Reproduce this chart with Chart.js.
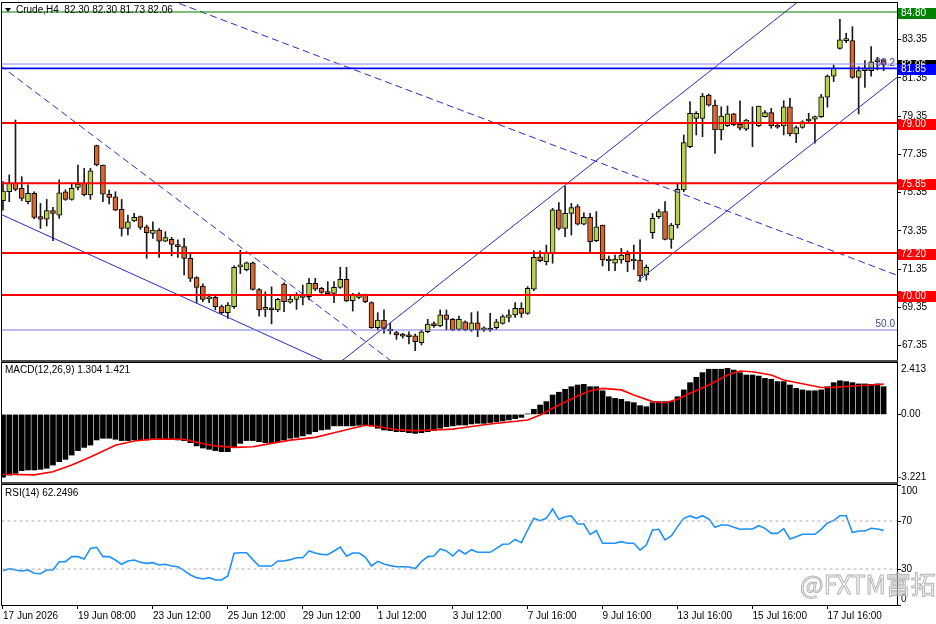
<!DOCTYPE html>
<html><head><meta charset="utf-8">
<script src="https://cdn.jsdelivr.net/npm/chart.js@4.4.1/dist/chart.umd.min.js"></script>
<style>
html,body{margin:0;padding:0;background:#fff;}
#wrap{position:relative;width:936px;height:624px;overflow:hidden;background:#fff;}
canvas{position:absolute;left:0;}
</style></head><body>
<div id="wrap">
<canvas id="cMain" width="936" height="362" style="top:0px"></canvas>
<canvas id="cMacd" width="936" height="122" style="top:362px"></canvas>
<canvas id="cRsi" width="936" height="140" style="top:484px"></canvas>
</div>
<script>
// ---------- DATA (Crude, H4) ----------
const opens = [
74.93,75.40,75.84,75.58,74.88,75.32,74.10,73.96,74.41,74.18,
75.40,75.00,75.63,75.84,75.23,77.81,76.80,75.28,75.14,74.48,
73.48,73.88,74.10,73.57,73.22,73.40,72.82,72.91,72.61,72.53,
71.92,70.91,70.47,69.80,69.88,69.39,69.08,69.39,71.47,71.33,
71.68,70.29,69.25,69.25,69.22,70.57,69.62,69.77,70.00,69.91,
70.61,70.35,70.09,70.09,70.40,70.82,69.70,69.88,70.00,69.60,
68.29,68.69,68.20,68.03,67.91,67.91,67.86,67.51,68.08,68.48,
68.39,68.96,68.73,68.20,68.60,68.17,68.55,68.17,68.20,68.29,
68.52,68.83,68.96,69.30,69.04,70.30,72.00,71.74,72.18,74.45,
73.48,74.27,74.62,73.71,74.06,72.84,73.66,71.80,71.66,71.83,
72.14,71.78,71.83,71.05,73.26,74.10,74.36,72.91,73.66,75.49,
77.76,79.24,79.24,80.45,79.93,78.63,78.85,79.47,78.93,78.67,
78.95,78.85,79.33,79.54,78.80,78.84,79.84,78.42,78.76,79.10,
79.19,79.32,80.34,81.45,82.90,83.30,83.30,81.38,81.73,81.73,
82.20,82.30];
const highs = [
75.93,76.28,79.15,76.19,75.76,75.40,74.79,75.00,74.58,76.02,
75.50,75.80,76.80,76.63,76.63,77.84,76.80,75.49,75.40,75.00,
74.18,74.27,74.13,73.66,73.83,73.48,73.31,73.02,72.88,72.96,
72.14,70.96,70.58,70.05,69.95,69.48,69.60,71.52,72.34,71.73,
71.73,70.34,70.17,70.43,69.83,70.64,70.00,70.12,70.52,70.87,
70.87,70.40,70.70,70.70,71.45,71.45,70.09,70.12,70.05,69.65,
69.08,69.22,68.52,68.10,68.00,68.08,67.96,68.17,68.73,68.60,
69.22,69.22,68.78,68.90,68.65,69.08,69.13,68.34,69.04,68.73,
68.96,69.22,69.60,69.60,70.44,72.31,72.31,72.61,74.53,74.83,
75.69,74.79,74.73,74.30,74.27,74.36,73.66,72.04,72.09,72.44,
72.31,72.61,72.88,71.57,74.27,74.48,74.88,73.75,75.84,78.37,
80.11,79.59,80.54,80.51,80.20,79.84,79.89,79.50,80.16,79.19,
79.84,79.88,79.64,79.76,78.93,80.16,80.28,78.84,79.11,79.50,
79.36,80.49,81.51,82.03,84.42,83.69,84.03,81.94,82.26,82.99,
82.43,82.30];
const lows = [
74.44,74.88,75.45,74.93,74.76,73.99,73.48,73.61,72.84,74.01,
74.95,74.96,75.49,75.18,75.00,76.75,74.88,74.76,74.41,73.08,
73.14,73.83,73.43,71.92,72.96,71.96,72.79,72.05,71.96,71.05,
70.70,69.58,69.65,69.60,69.22,69.01,68.78,69.30,71.12,71.26,
70.26,68.90,68.87,68.49,69.13,69.13,69.57,69.25,69.48,69.74,
70.23,70.09,70.00,69.60,70.35,69.65,69.16,69.81,69.60,68.26,
68.17,68.00,67.96,67.68,67.75,67.44,67.09,67.39,68.03,68.30,
68.34,68.17,68.13,68.13,68.13,68.10,67.82,68.10,68.10,68.20,
68.48,68.60,68.83,68.83,68.99,70.23,71.75,71.57,71.66,73.40,
73.05,73.14,73.66,73.66,72.18,72.79,71.52,71.27,71.27,71.66,
71.22,71.34,70.70,70.78,72.96,74.00,72.88,72.44,73.50,75.40,
77.70,78.37,78.28,79.88,77.41,78.11,78.80,78.85,78.63,78.60,
77.76,78.80,79.30,78.72,78.72,78.37,78.32,77.97,78.72,79.06,
77.94,79.28,79.82,81.16,82.85,83.20,81.33,79.47,80.86,81.45,
81.77,81.73];
const closes = [
75.44,75.84,75.52,75.05,75.32,74.06,73.97,74.41,74.27,75.35,
75.00,75.58,75.80,75.23,76.49,76.80,75.28,75.10,74.44,73.48,
73.83,74.06,73.54,73.26,73.40,72.82,73.00,72.65,72.53,71.92,
70.87,70.40,69.77,69.88,69.39,69.08,69.48,71.45,71.54,71.68,
70.29,69.22,69.27,69.23,69.77,69.65,69.79,70.00,69.88,70.61,
70.30,70.14,70.07,70.40,70.82,69.69,70.00,70.03,69.65,68.29,
68.69,68.26,68.12,67.91,67.85,67.82,67.56,68.08,68.48,68.40,
68.96,68.73,68.17,68.73,68.17,68.55,68.17,68.29,68.17,68.60,
68.87,68.96,69.30,69.04,70.35,71.97,71.80,72.18,74.45,73.48,
74.27,74.57,73.71,74.06,72.79,73.57,71.83,71.78,71.88,72.09,
71.74,71.80,71.00,71.45,74.01,74.36,72.91,73.66,75.53,77.97,
79.50,79.50,80.40,79.93,78.63,79.36,79.47,78.89,78.72,79.15,
78.98,79.88,79.54,78.84,78.78,79.84,78.42,78.76,79.06,79.15,
79.33,80.37,81.45,81.86,83.34,83.32,81.38,81.73,81.77,82.20,
82.26,82.06];

const macdHist = [
-2.95,-2.85,-2.77,-2.64,-2.61,-2.61,-2.58,-2.53,-2.38,-2.22,
-2.11,-1.91,-1.70,-1.55,-1.44,-1.20,-1.12,-1.12,-1.17,-1.23,
-1.23,-1.20,-1.20,-1.20,-1.17,-1.17,-1.17,-1.17,-1.20,-1.23,
-1.33,-1.48,-1.58,-1.64,-1.70,-1.75,-1.75,-1.55,-1.36,-1.23,
-1.23,-1.28,-1.33,-1.33,-1.28,-1.20,-1.12,-1.08,-1.01,-0.92,
-0.81,-0.73,-0.70,-0.54,-0.54,-0.54,-0.54,-0.51,-0.51,-0.54,
-0.65,-0.73,-0.76,-0.81,-0.81,-0.86,-0.89,-0.86,-0.81,-0.76,
-0.65,-0.58,-0.54,-0.50,-0.50,-0.45,-0.42,-0.42,-0.38,-0.35,
-0.31,-0.26,-0.20,-0.14,0.02,0.24,0.44,0.60,0.91,1.04,
1.18,1.30,1.38,1.41,1.30,1.30,1.11,0.83,0.75,0.71,
0.60,0.55,0.41,0.36,0.55,0.60,0.60,0.60,0.83,1.15,
1.49,1.74,1.96,2.12,2.12,2.12,2.16,2.08,1.96,1.85,
1.85,1.80,1.69,1.65,1.54,1.54,1.38,1.22,1.15,1.11,
1.11,1.15,1.30,1.49,1.58,1.54,1.49,1.43,1.43,1.41,
1.43,1.30];
const signalX = [0,5,8,11,14,18,21,24,29,32,34,37,40,43,46,50,53,56,58,60,63,66,69,72,
  73,78,84,86,89,92,94,96,99,101,104,106,108,110,113,116,118,120,123,125,129,131,133,136,139,141];
const signalY = [-2.81,-2.84,-2.69,-2.38,-2.00,-1.45,-1.25,-1.16,-1.17,-1.38,-1.48,-1.55,-1.52,-1.36,-1.21,-1.08,-0.86,-0.65,-0.51,-0.57,-0.72,-0.76,-0.73,-0.69,
  -0.65,-0.45,-0.26,-0.03,0.44,0.86,1.11,1.22,1.15,0.91,0.60,0.55,0.71,0.99,1.38,1.85,2.04,2.00,1.85,1.61,1.38,1.26,1.27,1.33,1.38,1.42];
const rsi = [
28.6,30.3,29.2,28.3,29.2,26.4,26.1,29.2,29.2,36.1,
36.1,40.3,40.3,38.3,47.2,48.1,40.3,40.3,37.5,33.9,
36.7,37.5,35.6,34.7,35.3,33.3,33.9,32.5,31.9,28.6,
25.0,22.8,21.7,22.8,20.8,20.8,24.2,43.1,43.6,43.6,
37.8,32.5,32.5,32.5,36.7,36.7,37.8,39.4,39.4,45.0,
43.3,42.2,41.9,45.0,48.3,40.6,43.3,43.3,40.0,32.5,
36.4,34.2,32.8,31.9,31.9,31.7,30.3,36.1,40.3,40.8,
46.7,45.0,40.8,45.8,42.5,46.1,43.9,43.9,43.9,47.2,
50.6,50.8,54.7,51.9,62.5,72.2,70.3,72.2,80.0,71.4,
73.6,74.2,67.5,67.5,58.9,61.9,51.4,51.4,51.4,52.8,
51.4,51.4,45.8,50.0,62.5,63.1,54.2,57.5,65.3,72.2,
74.2,72.2,74.4,71.7,64.7,66.7,66.7,64.7,63.1,63.3,
63.3,66.1,63.9,59.7,59.7,63.6,55.0,56.9,58.9,58.9,
58.9,63.1,68.3,70.3,74.4,74.4,60.3,61.7,61.7,63.9,
63.3,62.2];

const xTickIdx = [0,12,24,36,48,60,72,84,96,108,120,132];
const xLabels = ['17 Jun 2026','19 Jun 08:00','23 Jun 12:00','25 Jun 12:00','29 Jun 12:00','1 Jul 12:00',
                 '3 Jul 12:00','7 Jul 16:00','9 Jul 16:00','13 Jul 16:00','15 Jul 16:00','17 Jul 16:00'];
const priceTicks = [67.35,69.35,71.35,73.35,75.35,77.35,79.35,81.35,83.35];
const redLevels = [79.00,75.85,72.20,70.00];
const greenLevel = 84.80;
const blueLevel = 81.85;
const bidPrice = 82.06;
const fib382 = 82.08;
const fib500 = 68.17;
const macdTicks = [2.413,0,-3.221];
const macdTickLabels = ['2.413','0.00','-3.221'];
const rsiTicks = [100,70,30,0];
const rsiLevels = [70,30];
// trend lines: [barIndex, price] pairs
const trendSolid = [[[-0.48,74.24],[53,66.31]], [[52,65.98],[130,86.03]], [[101.6,70.73],[143.5,81.47]]];
const trendDashed = [[[-0.48,82.01],[65,65.85]], [[20,86.26],[143.5,70.99]]];

// ---------- STYLE ----------
const BULL = '#b8d04a', BEAR = '#d9672b', WICK = '#1a1a1a';
const TL = '#2a2acc';
const FONT = '"Liberation Sans", "DejaVu Sans", Arial, sans-serif';
const X_MIN = -0.16, X_MAX = 143.14;
const idx = opens.map((_, i) => i);

const hline = (v, color, w, dash) => ({type:'line', data:[{x:X_MIN-2,y:v},{x:X_MAX+2,y:v}],
  borderColor:color, borderWidth:w, borderDash:dash||[], pointRadius:0, tension:0, order:0, clip:0});
const seg = (pts, color, w, dash) => ({type:'line', data:pts.map(p=>({x:p[0],y:p[1]})),
  borderColor:color, borderWidth:w, borderDash:dash||[], pointRadius:0, tension:0, order:0, clip:0});

function yAxisBase(min, max, ticks, showLabels, fmt){
  return {type:'linear', position:'right', min, max,
    afterBuildTicks: s => { s.ticks = ticks.map(v => ({value:v})); },
    afterFit: s => { s.width = 39; s.paddingTop = 0; s.paddingBottom = 0; },
    grid:{drawOnChartArea:false, drawTicks:true, tickLength:4, color:'#000', lineWidth:1},
    border:{display:false},
    ticks:{display:true, color:'#000', padding:1, crossAlign:'near', font:{family:FONT, size:10},
      callback: v => showLabels ? fmt(v) : ''}
  };
}
const xHidden = {type:'linear', min:X_MIN, max:X_MAX, offset:false, display:false, grid:{offset:false}};

function frame(ctx, ca){
  ctx.save(); ctx.strokeStyle = '#000'; ctx.lineWidth = 1;
  ctx.strokeRect(ca.left - 0.5, ca.top - 0.5, ca.right - ca.left + 1, ca.bottom - ca.top + 1);
  ctx.restore();
}
function sepBar(ctx, ca, y){
  ctx.save(); ctx.fillStyle = '#4a4a4a'; ctx.fillRect(ca.left - 1, y, ca.right - ca.left + 2, 2); ctx.restore();
}
function text(ctx, s, x, y, color, size, align, font){
  ctx.save(); ctx.fillStyle = color; ctx.font = (size||10) + 'px ' + (font||FONT);
  ctx.textAlign = align || 'left'; ctx.textBaseline = 'middle'; ctx.fillText(s, x, y); ctx.restore();
}

const commonOpts = {responsive:false, animation:false, devicePixelRatio:1, events:[],
  plugins:{legend:{display:false}, tooltip:{enabled:false}}};

// ---------- MAIN ----------
const mainPlugin = {id:'mainDeco', afterDraw(chart){
  const ctx = chart.ctx, ca = chart.chartArea, ys = chart.scales.y;
  frame(ctx, ca);
  sepBar(ctx, ca, 360);
  text(ctx, '38.2', 895, ys.getPixelForValue(fib382) - 1, '#45459a', 10, 'right');
  text(ctx, '50.0', 895, ys.getPixelForValue(fib500) - 5.5, '#45459a', 10, 'right');
  const tags = [[greenLevel,'#008000'], ...redLevels.map(v=>[v,'#ff0000']), [bidPrice,'#000000'], [blueLevel,'#0000ff']];
  tags.forEach(([v,c]) => {
    const y = ys.getPixelForValue(v);
    ctx.fillStyle = c; ctx.fillRect(898, Math.round(y) - 4, 38, 11);
    text(ctx, v.toFixed(2), 901, Math.round(y) + 1.5, '#fff', 10, 'left');
  });
  ctx.save(); ctx.fillStyle = '#000'; ctx.beginPath(); ctx.moveTo(5,8); ctx.lineTo(11,8); ctx.lineTo(8,12); ctx.closePath(); ctx.fill(); ctx.restore();
  text(ctx, 'Crude,H4  82.30 82.30 81.73 82.06', 16, 10, '#000', 10);
}};

new Chart(document.getElementById('cMain'), {
  type:'bar',
  data:{datasets:[
    {type:'bar', data: idx.map(i=>({x:i, y:[lows[i], highs[i]]})), backgroundColor:WICK, borderWidth:0,
     barThickness:1, grouped:false, order:3, clip:0},
    {type:'bar', data: idx.map(i=>({x:i, y:[opens[i], closes[i]]})),
     backgroundColor: idx.map(i => closes[i] >= opens[i] ? BULL : BEAR), borderColor:'#000', borderWidth:1,
     borderSkipped:false, barThickness:5, minBarLength:2, grouped:false, order:2, clip:0},
    hline(greenLevel, '#008000', 1),
    ...redLevels.map(v => hline(v, '#ff0000', 2)),
    hline(fib382, '#8a8af2', 1),
    hline(blueLevel, '#0000ff', 1.6),
    hline(fib500, '#7a78e6', 1),
    ...trendSolid.map(p => seg(p, TL, 1)),
    ...trendDashed.map(p => seg(p, TL, 1, [7,4]))
  ]},
  options:{...commonOpts, layout:{padding:{left:2, right:0, top:3, bottom:1}},
    scales:{x:xHidden, y:yAxisBase(66.55, 85.27, priceTicks, true, v => v.toFixed(2))}},
  plugins:[mainPlugin]
});

// ---------- MACD ----------
const macdPlugin = {id:'macdDeco', afterDraw(chart){
  const ctx = chart.ctx, ca = chart.chartArea, ys = chart.scales.y;
  frame(ctx, ca);
  sepBar(ctx, ca, 120);
  macdTicks.forEach((v,k) => {
    let y = ys.getPixelForValue(v); y = Math.min(Math.max(y, ca.top + 6), ca.bottom - 6);
    text(ctx, macdTickLabels[k], v < 0 ? 898 : 901, y, '#000', 10);
  });
  text(ctx, 'MACD(12,26,9) 1.304 1.421', 5, 8.5, '#000', 10);
}};
new Chart(document.getElementById('cMacd'), {
  type:'bar',
  data:{datasets:[
    {type:'bar', data: idx.map(i=>({x:i, y:macdHist[i]})), backgroundColor:'#000', borderWidth:0,
     barThickness:5, grouped:false, order:2, clip:0},
    {type:'line', data: signalX.map((x,k)=>({x, y:signalY[k]})), borderColor:'#ff0000', borderWidth:1.6,
     pointRadius:0, tension:0, order:1, clip:0}
  ]},
  options:{...commonOpts, layout:{padding:{left:2, right:0, top:1, bottom:1}},
    scales:{x:xHidden, y:yAxisBase(-3.221, 2.413, [0], false)}},
  plugins:[macdPlugin]
});

// ---------- RSI ----------
const rsiPlugin = {id:'rsiDeco', afterDraw(chart){
  const ctx = chart.ctx, ca = chart.chartArea, ys = chart.scales.y;
  frame(ctx, ca);
  rsiTicks.forEach(v => {
    let y = ys.getPixelForValue(v); y = Math.min(Math.max(y, ca.top + 6), ca.bottom - 6);
    text(ctx, String(v), 901, y, '#000', 10);
  });
  text(ctx, 'RSI(14) 62.2496', 5, 9.5, '#000', 10);
  ctx.save(); ctx.strokeStyle = '#b4b4b4'; ctx.lineWidth = 1;
  ctx.font = '25px "Noto Sans CJK SC", "Noto Sans", sans-serif'; ctx.textBaseline = 'alphabetic';
  ctx.strokeText('@FXTM富拓', 800, 110); ctx.restore();
}};
new Chart(document.getElementById('cRsi'), {
  type:'line',
  data:{datasets:[
    {data: idx.map(i=>({x:i, y:rsi[i]})), borderColor:'#1e90ff', borderWidth:1.6, pointRadius:0, tension:0, order:1, clip:0},
    ...rsiLevels.map(v => hline(v, '#b0b0b0', 1, [3,3]))
  ]},
  options:{...commonOpts, layout:{padding:{left:2, right:0, top:1, bottom:0}},
    scales:{
      x:{type:'linear', position:'bottom', min:X_MIN, max:X_MAX, offset:false,
        afterBuildTicks: s => { s.ticks = xTickIdx.map(v => ({value:v})); },
        afterFit: s => { s.height = 19; s.paddingLeft = 0; s.paddingRight = 0; },
        grid:{drawOnChartArea:false, drawTicks:true, tickLength:4, color:'#000', offset:false},
        border:{display:false},
        ticks:{autoSkip:false, maxRotation:0, minRotation:0, align:'start', padding:1, color:'#000',
          font:{family:FONT, size:10}, callback:(v, k) => xLabels[k]}},
      y: yAxisBase(0, 100, rsiTicks, false)
    }},
  plugins:[rsiPlugin]
});
</script>
</body></html>
